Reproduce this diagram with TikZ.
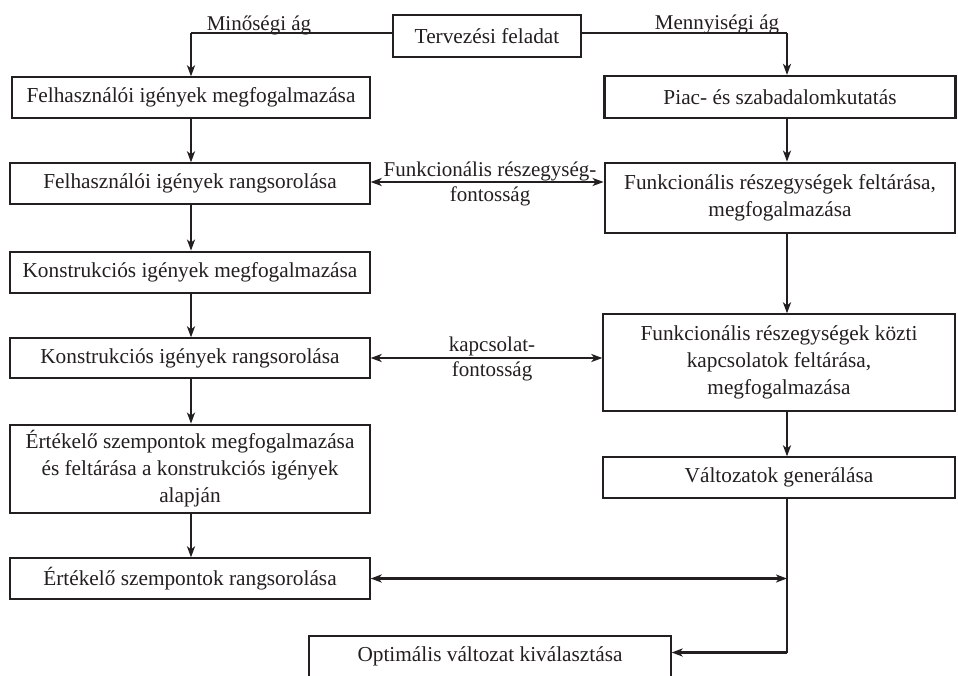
\documentclass[tikz,border=0pt]{standalone}
\usepackage{fontspec}
\setmainfont{Liberation Serif}
\usetikzlibrary{arrows.meta}
\definecolor{ink}{HTML}{231F20}
\begin{document}
\begin{tikzpicture}[x=1pt,y=-1pt,
  box/.style={draw=ink, line width=1.3pt, inner sep=0pt, align=center,
    font=\fontsize{21.3}{27}\selectfont, text=ink},
  bbox/.style={box, line width=2.8pt},
  tip/.tip={Stealth[length=11pt,width=8pt,inset=3pt]},
  arr/.style={draw=ink, line width=2.3pt, -tip},
  darr/.style={draw=ink, line width=2.3pt, tip-tip},
  thinline/.style={draw=ink, line width=1.5pt},
  lab/.style={font=\fontsize{21}{23}\selectfont, text=ink, inner sep=0pt}]
\clip (0,0) rectangle (958,675);
\fill[white] (0,0) rectangle (958,675);
\coordinate (colL) at (191,0);
\coordinate (colR) at (787,0);

% top
\node[bbox, minimum width=188pt, minimum height=42pt] (task) at (487,36) {Tervezési feladat};

% left column
\node[box, minimum width=358pt, minimum height=41pt] (fm) at (191,97.5) {Felhasználói igények megfogalmazása};
\node[box, minimum width=360pt, minimum height=41pt] (fr) at (190,183.5) {Felhasználói igények rangsorolása};
\node[bbox, minimum width=360pt, minimum height=41pt] (km) at (190,272.5) {Konstrukciós igények megfogalmazása};
\node[box, minimum width=360pt, minimum height=40pt] (kr) at (190,358) {Konstrukciós igények rangsorolása};
\node[bbox, minimum width=360pt, minimum height=88pt] (em) at (190,469) {Értékelő szempontok megfogalmazása\\ és feltárása a konstrukciós igények\\ alapján};
\node[box, minimum width=360pt, minimum height=41pt] (er) at (190,578.5) {Értékelő szempontok rangsorolása};
\node[box, minimum width=362pt, minimum height=41pt] (opt) at (490,656.5) {Optimális változat kiválasztása};

% right column
\node[box, line width=2.2pt, minimum width=351pt, minimum height=42pt] (piac) at (780,97) {Piac- és szabadalomkutatás};
\node[bbox, minimum width=350pt, minimum height=70pt] (ff) at (780,198) {Funkcionális részegységek feltárása,\\ megfogalmazása};
\node[box, minimum width=352pt, minimum height=97pt] (fk) at (779,362.5) {Funkcionális részegységek közti\\ kapcsolatok feltárása,\\ megfogalmazása};
\node[box, minimum width=352pt, minimum height=41pt] (valt) at (779,477.5) {Változatok generálása};

% labels
\node[lab, anchor=base] (lmin) at (259,30) {Minőségi ág};
\node[lab, anchor=base] (lmen) at (717,29) {Mennyiségi ág};
\node[lab, anchor=base] (lf1) at (490,176) {Funkcionális részegység-};
\node[lab, anchor=base] (lf2) at (490,201) {fontosság};
\node[lab, anchor=base] (lk1) at (492,351) {kapcsolat-};
\node[lab, anchor=base] (lk2) at (492,376) {fontosság};

% branches from the task
\draw[thinline] ([yshift=3pt]task.west) -- ([yshift=3pt]task.west -| colL);
\draw[arr] ([yshift=3pt]task.west -| colL) -- (fm.north -| colL);
\draw[thinline] ([yshift=3pt]task.east) -- ([yshift=3pt]task.east -| colR);
\draw[arr] ([yshift=3pt]task.east -| colR) -- (piac.north -| colR);

% left flow
\draw[arr] (fm.south -| colL) -- (fr.north -| colL);
\draw[arr] (fr.south -| colL) -- (km.north -| colL);
\draw[arr] (km.south -| colL) -- (kr.north -| colL);
\draw[arr] (kr.south -| colL) -- (em.north -| colL);
\draw[arr] (em.south -| colL) -- (er.north -| colL);

% right flow
\draw[arr] (piac.south -| colR) -- (ff.north -| colR);
\draw[arr] (ff.south -| colR) -- (fk.north -| colR);
\draw[arr] (fk.south -| colR) -- (valt.north -| colR);

% cross links
\draw[darr] ([yshift=1.5pt]fr.east) -- ([yshift=1.5pt]fr.east -| ff.west);
\draw[darr] (kr.east) -- (kr.east -| fk.west);
\draw[darr] (er.east) -- (er.east -| colR);

% to optimum
\draw[thinline] (valt.south -| colR) -- ([yshift=4pt]opt.east -| colR);
\draw[arr] ([yshift=4pt]opt.east -| colR) -- ([yshift=4pt]opt.east);
\end{tikzpicture}
\end{document}
